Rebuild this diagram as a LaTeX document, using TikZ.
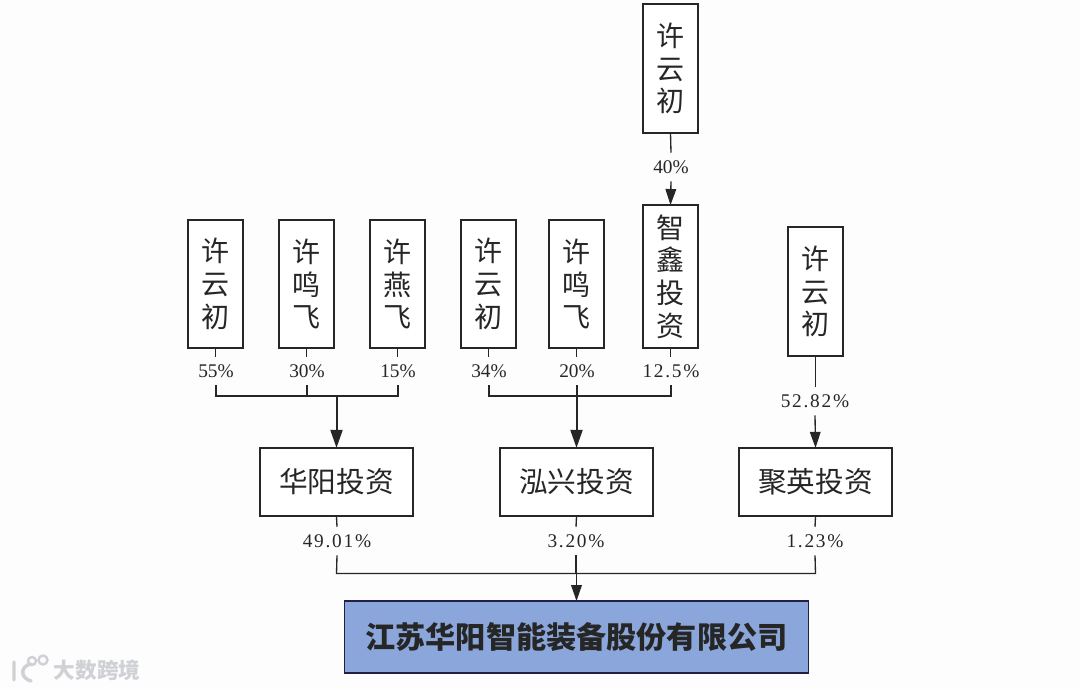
\documentclass[tikz,border=0pt]{standalone}
\usepackage{fontspec}
\setmainfont{Liberation Serif}
\newfontfamily\cjk{Noto Sans CJK SC}
\newfontfamily\widenum[LetterSpace=9]{Liberation Serif}
\usetikzlibrary{arrows.meta}
\definecolor{ink}{HTML}{262626}
\definecolor{co}{HTML}{8AA6DA}
\definecolor{wm}{HTML}{CFD1D5}
\tikzset{
  vbox/.style={draw=ink,line width=1.2pt,fill=white,minimum width=41.5pt,inner sep=0pt,align=center,font=\cjk\fontsize{21}{24.5}\selectfont,text=ink},
  hbox/.style={draw=ink,line width=1.2pt,fill=white,minimum width=114.5pt,minimum height=51pt,inner sep=0pt,font=\cjk\fontsize{21.5}{24}\selectfont,text=ink},
  pct/.style={font=\fontsize{14.5}{16}\selectfont,text=ink,inner sep=0pt,minimum height=21pt},
  pctw/.style={pct,font=\widenum\fontsize{14.5}{16}\selectfont},
  wire/.style={draw=ink,line width=1pt},
  feed/.style={draw=ink,line width=1.5pt,shorten >=-.5pt,-{Triangle[length=13.5pt,width=9pt]}},
  feedthin/.style={draw=ink,line width=1pt,shorten >=-.5pt,-{Triangle[length=12pt,width=8pt]}}
}
\begin{document}
\begin{tikzpicture}[x=.75pt,y=-.75pt]
\useasboundingbox (0,0) rectangle (1080,689);
\fill[fill={rgb,255:red,253;green,253;blue,254}] (0,0) rectangle (1080,689);
% top chain
\node[vbox,minimum height=96.5pt] (topx) at (670.5,68.5) {许\\云\\初};
\node[pct] (p40) at (671,167) {40\%};
\node[vbox,minimum height=107pt] (zx) at (670.5,276.5) {智\\鑫\\投\\资};
% row
\node[vbox,minimum height=96pt] (a1) at (215.5,284) {许\\云\\初};
\node[vbox,minimum height=96pt] (a2) at (306.5,284) {许\\鸣\\飞};
\node[vbox,minimum height=96pt] (a3) at (397.5,284) {许\\燕\\飞};
\node[vbox,minimum height=96pt] (b1) at (488.5,284) {许\\云\\初};
\node[vbox,minimum height=96pt] (b2) at (576.5,284) {许\\鸣\\飞};
\node[vbox,minimum height=96.5pt] (c1) at (815.5,291.5) {许\\云\\初};
% pct
\node[pct] (p55) at (216,371) {55\%};
\node[pct] (p30) at (307,371) {30\%};
\node[pct] (p15) at (398,371) {15\%};
\node[pct] (p34) at (489,371) {34\%};
\node[pct] (p20) at (577,371) {20\%};
\node[pctw] (p125) at (671,371) {12.5\%};
\node[pctw] (p5282) at (815,401) {52.82\%};
% mid boxes
\node[hbox] (hy) at (336.5,482) {华阳投资};
\node[hbox] (hx) at (576.5,482) {泓兴投资};
\node[hbox] (jy) at (815.5,482) {聚英投资};
% lower pct
\node[pctw] (p4901) at (337,541) {49.01\%};
\node[pctw] (p320) at (576,541) {3.20\%};
\node[pctw] (p123) at (815,541) {1.23\%};
% company
\node[draw=ink!85!blue,line width=1.4pt,fill=co,minimum width=348pt,minimum height=53.5pt,inner sep=0pt,font=\cjk\bfseries\fontsize{22.6}{24}\selectfont,text=black!85] (co) at (576.5,637) {江苏华阳智能装备股份有限公司};
% junctions
\coordinate (j1) at (hy.north |- 0,396);
\coordinate (j2) at (hx.north |- 0,396);
\coordinate (j3) at (hy.south |- 0,573.5);
\coordinate (j4) at (jy.south |- 0,573.5);
\coordinate (j5) at (co.north |- 0,573.5);
% connectors
\draw[wire] (topx.south) -- (p40.north);
\draw[feedthin] (p40.south) -- (zx.north);
\foreach \u/\v in {a1/p55,a2/p30,a3/p15,b1/p34,b2/p20,zx/p125,c1/p5282}{
  \draw[wire] (\u.south) -- (\u.south |- \v.north);
}
\draw[wire] (p55.south) -- (p55.south |- j1) -- (p15.south |- j1) -- (p15.south);
\draw[wire] (p30.south) -- (p30.south |- j1);
\draw[wire] (p34.south) -- (p34.south |- j2) -- (p125.south |- j2) -- (p125.south);
\draw[wire] (p20.south) -- (p20.south |- j2);
\draw[feed] (j1) -- (hy.north);
\draw[feed] (j2) -- (hx.north);
\draw[feedthin] (p5282.south) -- (jy.north);
\draw[wire] (hy.south) -- (p4901.north);
\draw[wire] (hx.south) -- (p320.north);
\draw[wire] (jy.south) -- (p123.north);
\draw[wire] (p4901.south) -- (j3) -- (j4) -- (p123.south);
\draw[wire] (p320.south) -- (p320.south |- j3);
\draw[feedthin] (j5) -- (co.north);
% watermark
\node[font=\cjk\bfseries\fontsize{16.2}{17}\selectfont,text=wm,inner sep=0pt] (wmt) at (97,670) {大数跨境};
\draw[wm,line width=2.6pt,line cap=round] (14,662) -- (14,680) (31,664) .. controls (20,666) and (20,678) .. (31,681);
\draw[wm,line width=1.8pt] (32,661) circle (4) (43,660) circle (4.5);
\end{tikzpicture}
\end{document}
